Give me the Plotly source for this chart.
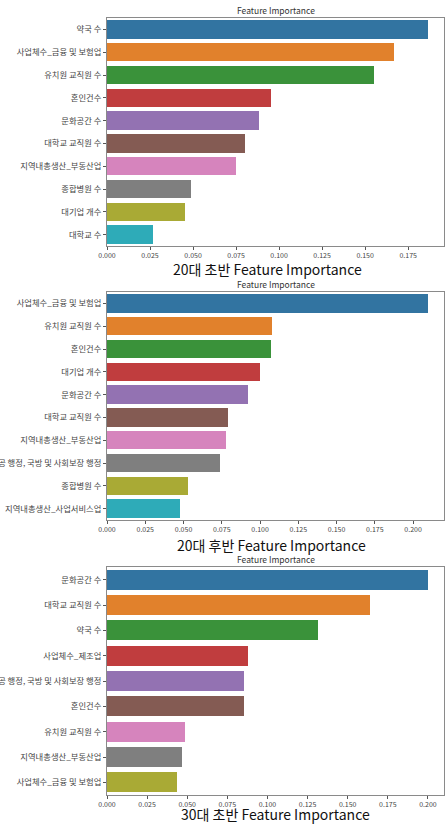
import plotly.graph_objects as go

# ---------------- data ----------------
labels_20_early = ["약국 수", "사업체수_금융 및 보험업", "유치원 교직원 수", "혼인건수", "문화공간 수",
                   "대학교 교직원 수", "지역내총생산_부동산업", "종합병원 수", "대기업 개수", "대학교 수"]
values_20_early = [0.1865, 0.1669, 0.1553, 0.0954, 0.0883, 0.0803, 0.0751, 0.0490, 0.0454, 0.0267]

labels_20_late = ["사업체수_금융 및 보험업", "유치원 교직원 수", "혼인건수", "대기업 개수", "문화공간 수",
                  "대학교 교직원 수", "지역내총생산_부동산업", "사업체수_공공 행정, 국방 및 사회보장 행정",
                  "종합병원 수", "지역내총생산_사업서비스업"]
values_20_late = [0.2097, 0.1080, 0.1069, 0.0998, 0.0924, 0.0788, 0.0777, 0.0740, 0.0532, 0.0476]

labels_30_early = ["문화공간 수", "대학교 교직원 수", "약국 수", "사업체수_제조업",
                   "사업체수_공공 행정, 국방 및 사회보장 행정", "혼인건수", "유치원 교직원 수",
                   "지역내총생산_부동산업", "사업체수_금융 및 보험업"]
values_30_early = [0.2000, 0.1639, 0.1314, 0.0880, 0.0854, 0.0852, 0.0486, 0.0467, 0.0436]

captions = ["20대 초반 Feature Importance", "20대 후반 Feature Importance", "30대 초반 Feature Importance"]
subtitle = "Feature Importance"

palette = ["#3274a1", "#e1812c", "#3a923a", "#c03d3e", "#9372b2",
           "#845b53", "#d684bd", "#7f7f7f", "#a9aa35", "#2eabb8"]

# ---------------- layout ----------------
W, H = 447, 824
FONT = "Noto Sans CJK KR"

panels = [
    # labels, values, plot top px, plot bottom px, caption y px, caption x px, title y px
    (labels_20_early, values_20_early, 18, 246, 269, 267, 10),
    (labels_20_late, values_20_late, 292, 520, 545, 271, 284),
    (labels_30_early, values_30_early, 567, 795, 814, 275, 559),
]
X0, X1 = 107, 444

fig = go.Figure()
annotations = []
for i, (labs, vals, top, bot, cap_y, cap_x, t_y) in enumerate(panels):
    n = i + 1
    xa = "x" if n == 1 else f"x{n}"
    ya = "y" if n == 1 else f"y{n}"
    fig.add_trace(go.Bar(
        x=vals, y=list(range(len(vals))), orientation="h", width=0.8,
        marker=dict(color=palette[:len(vals)], line=dict(width=0)),
        xaxis=xa, yaxis=ya, showlegend=False, hoverinfo="x+text", text=labs,
        textposition="none",
    ))
    dom_y = [1 - bot / H, 1 - top / H]
    xkey = "xaxis" if n == 1 else f"xaxis{n}"
    ykey = "yaxis" if n == 1 else f"yaxis{n}"
    fig.update_layout(**{
        xkey: dict(
            domain=[X0 / W, X1 / W], anchor=ya, range=[0, max(vals) * 1.05],
            dtick=0.025, tick0=0, tickformat=".3f", ticks="outside", ticklen=3,
            tickcolor="#555", tickwidth=0.8,
            showgrid=False, zeroline=False, showline=True, linecolor="#8a8a8a",
            linewidth=1, mirror=True, automargin=False,
            tickfont=dict(family=FONT, size=7, color="#444"),
        ),
        ykey: dict(
            domain=dom_y, anchor=xa, range=[len(vals) - 0.5, -0.5],
            tickmode="array", tickvals=list(range(len(vals))), ticktext=labs,
            ticks="outside", ticklen=3, tickcolor="#555", tickwidth=0.8,
            showgrid=False, zeroline=False, showline=True, linecolor="#8a8a8a",
            linewidth=1, mirror=True, automargin=False,
            tickfont=dict(family=FONT, size=8.3, color="#444"),
        ),
    })
    annotations.append(dict(
        text=subtitle, x=(X0 + X1) / 2 / W, y=1 - t_y / H, xref="paper", yref="paper",
        showarrow=False, xanchor="center", yanchor="middle",
        font=dict(family=FONT, size=8.5, color="#333"),
    ))
    annotations.append(dict(
        text=captions[i], x=cap_x / W, y=1 - cap_y / H, xref="paper", yref="paper",
        showarrow=False, xanchor="center", yanchor="middle",
        font=dict(family=FONT, size=14, color="#111"),
    ))

fig.update_layout(
    width=W, height=H, margin=dict(l=0, r=0, t=0, b=0),
    paper_bgcolor="white", plot_bgcolor="white",
    annotations=annotations, bargap=0,
    font=dict(family=FONT),
)

fig.write_html("out.html", config={"displayModeBar": False})
